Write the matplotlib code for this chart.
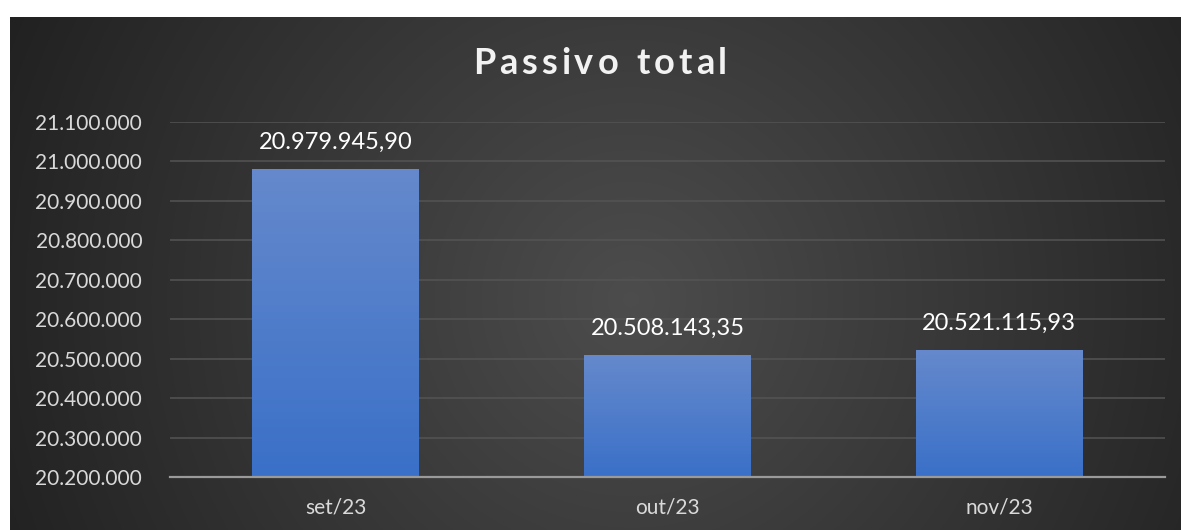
"""Passivo total - bar chart with dark radial background."""

import matplotlib

matplotlib.use("Agg")
import matplotlib.pyplot as plt
import numpy as np
from matplotlib.ticker import FuncFormatter

months = ["set/23", "out/23", "nov/23"]
passivo = [20979945.90, 20508143.35, 20521115.93]
y_ticks = [20200000, 20300000, 20400000, 20500000, 20600000,
           20700000, 20800000, 20900000, 21000000, 21100000]
title = "Passivo total"

W, H = 1181, 530
plt.rcParams["font.family"] = ["Lato", "DejaVu Sans"]

fig = plt.figure(figsize=(W / 100, H / 100), dpi=100)
fig.patch.set_facecolor("white")

# radial gradient background of the chart area
bg_left, bg_top = 10, 17
bg = fig.add_axes([bg_left / W, 0, 1 - bg_left / W, 1 - bg_top / H])
bw, bh = W - bg_left, H - bg_top
xx, yy = np.meshgrid(np.arange(bw), np.arange(bh))
cx, cy = bw * 0.53, bh * 0.55
r = np.sqrt((xx - cx) ** 2 + (yy - cy) ** 2) / np.sqrt(cx ** 2 + cy ** 2)
shade = 0.30 - 0.17 * np.clip(r, 0, 1.05)
img = np.dstack([shade, shade, shade])
bg.imshow(img, aspect="auto", extent=[0, bw, 0, bh], interpolation="bilinear")
bg.set_axis_off()

ax = fig.add_axes([170 / W, 1 - 477 / H, (1165 - 170) / W, (477 - 122) / H])
ax.patch.set_alpha(0)
ax.set_yticks(y_ticks)
ax.yaxis.set_major_formatter(FuncFormatter(lambda v, _: f"{v:,.0f}".replace(",", ".")))
ax.grid(axis="y", color="#545454", linewidth=1.1)
ax.set_axisbelow(True)
for side in ("top", "right", "left"):
    ax.spines[side].set_visible(False)
ax.spines["bottom"].set_color("#9a9a9a")
ax.spines["bottom"].set_linewidth(1.6)
ax.tick_params(axis="both", length=0, colors="#d9d9d9", labelsize=15)
ax.tick_params(axis="y", pad=20)
ax.tick_params(axis="x", pad=15)
ax.set_xticks(range(len(months)))
ax.set_xticklabels(months)

# bars with vertical gradient
grad = np.linspace(0, 1, 256).reshape(-1, 1)
top_c = np.array([0x65, 0x89, 0xcc]) / 255
bot_c = np.array([0x3a, 0x70, 0xc8]) / 255
bar_img = top_c * (1 - grad[..., None]) + bot_c * grad[..., None]
bars = ax.bar(range(len(months)), [v - y_ticks[0] for v in passivo],
              bottom=y_ticks[0], width=0.503, color="none", zorder=2)
for bar in bars:
    x0, y0 = bar.get_x(), bar.get_y()
    x1, y1 = x0 + bar.get_width(), y0 + bar.get_height()
    ax.imshow(bar_img, aspect="auto", extent=[x0, x1, y0, y1],
              interpolation="bilinear", zorder=2)
ax.set_xlim(-0.5, 2.5)
ax.set_ylim(y_ticks[0], y_ticks[-1])

for i, v in enumerate(passivo):
    label = f"{v:,.2f}".replace(",", "X").replace(".", ",").replace("X", ".")
    ax.annotate(label, (i, v), xytext=(0, 12), textcoords="offset points",
                ha="center", va="bottom", color="white", fontsize=17)

# title with extra letter spacing, laid out char by char
renderer = fig.canvas.get_renderer()
spacing = 4.0  # px between letters
props = dict(color="#f2f2f2", fontsize=26, fontweight="bold", va="center")
widths = []
for ch in title:
    t = fig.text(0, 0, ch if ch != " " else "a", **props)
    widths.append(t.get_window_extent(renderer).width * (0.55 if ch == " " else 1))
    t.remove()
total = sum(widths) + spacing * (len(title) - 1)
x = 600 - total / 2
for ch, w in zip(title, widths):
    fig.text(x / W, 1 - 64 / H, ch, ha="left", **props)
    x += w + spacing

fig.savefig("out.png", dpi=100)
plt.close(fig)
